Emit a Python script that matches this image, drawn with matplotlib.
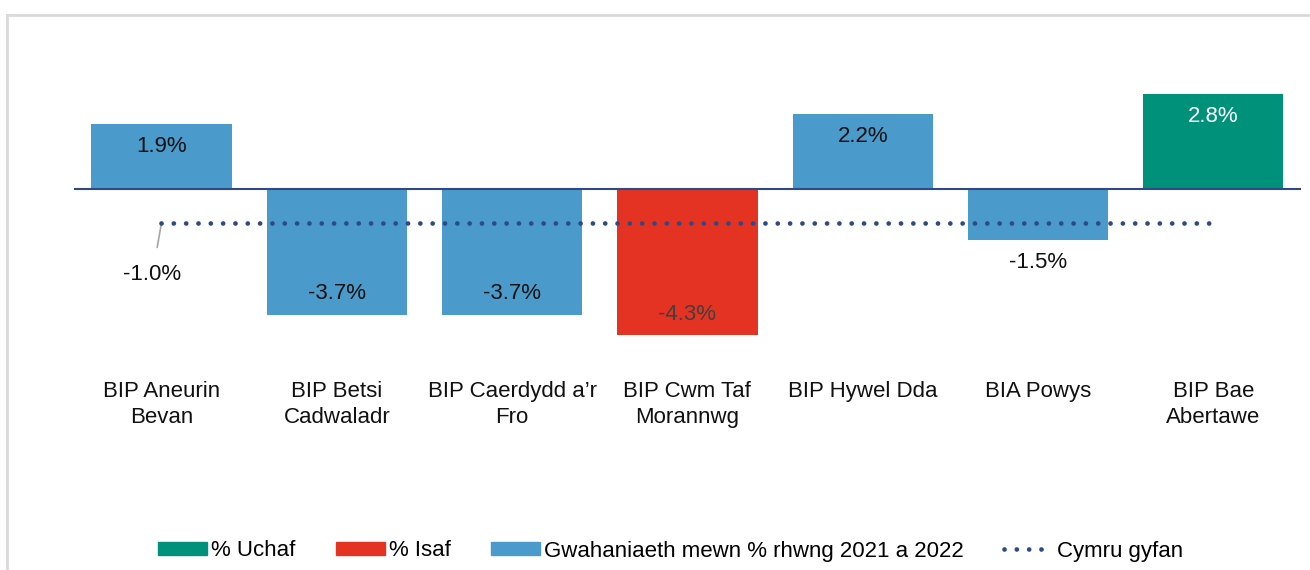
import matplotlib.pyplot as plt
from matplotlib.lines import Line2D
from matplotlib.patches import Patch

plt.rcParams['font.family'] = ['Liberation Sans', 'DejaVu Sans']

categories = ['BIP Aneurin\nBevan', 'BIP Betsi\nCadwaladr', 'BIP Caerdydd a\u2019r\nFro',
              'BIP Cwm Taf\nMorannwg', 'BIP Hywel Dda', 'BIA Powys', 'BIP Bae\nAbertawe']
diff_values = [1.9, -3.7, -3.7, -4.3, 2.2, -1.5, 2.8]
wales_value = -1.0
legend_labels = ['% Uchaf', '% Isaf', 'Gwahaniaeth mewn % rhwng 2021 a 2022', 'Cymru gyfan']

blue = '#4A9BCB'
green = '#00917A'
red = '#E53323'
navy = '#2E4A86'

hi = diff_values.index(max(diff_values))
lo = diff_values.index(min(diff_values))
colors = [blue] * len(diff_values)
colors[hi] = green
colors[lo] = red

px = 34.0  # pixels per percent
fig = plt.figure(figsize=(13.1, 5.7), dpi=100)
ax = fig.add_axes([73.8 / 1310, 1 - 360 / 570, (1301 - 73.8) / 1310, 320 / 570])

x = list(range(len(categories)))
ax.bar(x, diff_values, width=0.8, color=colors, zorder=2)
ax.axhline(0, color=navy, lw=1.5, zorder=3)

dots = (0, (0.01, 2.6))
ax.plot([x[0], x[-1]], [wales_value, wales_value], color=navy, lw=3.4,
        linestyle=dots, dash_capstyle='round', zorder=4)

ax.set_xlim(-0.5, len(categories) - 0.5)
ax.set_ylim(-(360 - 189) / px, (189 - 40) / px)
ax.axis('off')

# data labels
for i, v in enumerate(diff_values):
    txt_color = '#111111'
    if i == hi:
        txt_color = 'white'
    elif i == lo:
        txt_color = '#404040'
    off = -16 if v > -2 else 15
    ax.annotate(f'{v:.1f}%', (i, v), xytext=(0, off), textcoords='offset points',
                ha='center', va='center', fontsize=16, color=txt_color, zorder=5)

ax.annotate(f'{wales_value:.1f}%', (0, wales_value), xytext=(-6.5, -37),
            textcoords='offset points', ha='center', va='center', fontsize=16,
            color='#111111',
            arrowprops=dict(arrowstyle='-', color='#A6A6A6', lw=1.2,
                            shrinkA=10, shrinkB=1))

# category labels
for i, c in enumerate(categories):
    ax.text(i, -(381 - 189) / px, c, ha='center', va='top', fontsize=16,
            linespacing=1.3, color='#111111')

handles = [Patch(color=green), Patch(color=red), Patch(color=blue),
           Line2D([0], [0], color=navy, lw=3.4, linestyle=dots,
                  dash_capstyle='round')]
fig.legend(handles, legend_labels, loc='center', bbox_to_anchor=(0.512, 1 - 551 / 570),
           ncol=4, frameon=False, fontsize=16, handlelength=2.2, handleheight=0.55,
           columnspacing=1.8, handletextpad=0.2)

# outer border (top and left visible)
fig.add_artist(Line2D([7 / 1310, 1], [1 - 15 / 570, 1 - 15 / 570], color='#D9D9D9', lw=2))
fig.add_artist(Line2D([7 / 1310, 7 / 1310], [0, 1 - 15 / 570], color='#D9D9D9', lw=2))

fig.savefig('out.png', dpi=100)
